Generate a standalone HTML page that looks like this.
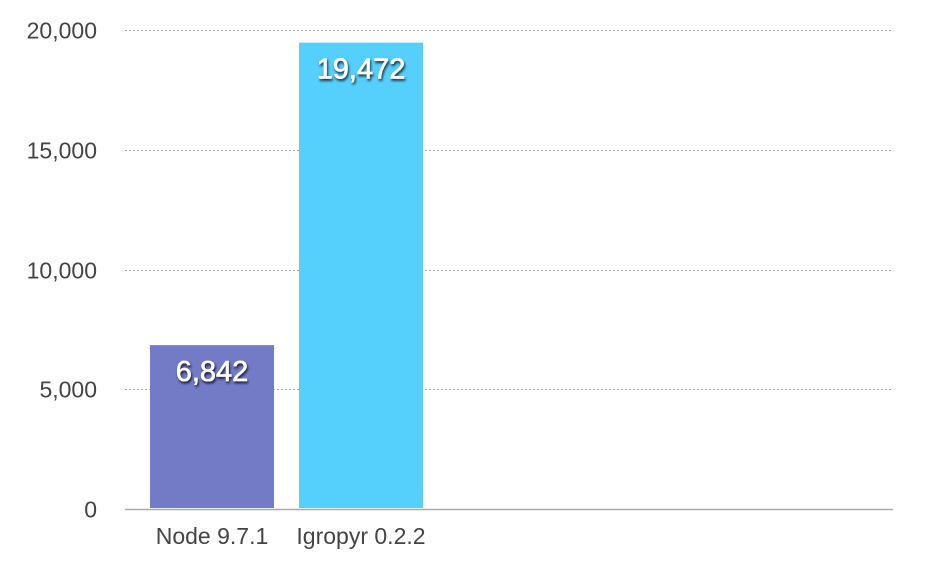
<!DOCTYPE html>
<html><head><meta charset="utf-8"><style>
html,body{margin:0;padding:0;background:#fff;}
svg{display:block;font-family:"Liberation Sans",Helvetica,Arial,sans-serif;}
</style></head><body>
<svg id="chart" width="942" height="572" viewBox="0 0 942 572">
<defs><filter id="sh" x="-20%" y="-40%" width="140%" height="180%"><feDropShadow dx="1" dy="2" stdDeviation="1.2" flood-color="#000" flood-opacity="0.8"/></filter></defs>
<g id="grid"></g><g id="bars"></g><g id="labels"></g>
</svg>
<script>
const categories = ["Node 9.7.1", "Igropyr 0.2.2"];
const values = [6842, 19472];
const valueLabels = ["6,842", "19,472"];
const colors = ["#737bc7", "#55cffc"];
const yTicks = [0, 5000, 10000, 15000, 20000];
const yTickLabels = ["0", "5,000", "10,000", "15,000", "20,000"];

const NS = "http://www.w3.org/2000/svg";
const x0 = 125, x1 = 893, yBase = 509, yTop = 30, yMax = 20000;
const y = v => yBase - (v / yMax) * (yBase - yTop);
const barX = i => 150 + i * 149;
const barW = 124;
function mk(tag, attrs, parent, text) {
  const e = document.createElementNS(NS, tag);
  for (const k in attrs) e.setAttribute(k, attrs[k]);
  if (text !== undefined) e.textContent = text;
  parent.appendChild(e);
  return e;
}
const grid = document.getElementById("grid");
const bars = document.getElementById("bars");
const labels = document.getElementById("labels");
yTicks.forEach((t, i) => {
  const yy = Math.round(y(t)) + 0.5;
  if (t !== 0) {
    const l = mk("line", {x1: x0, x2: x1, y1: yy, y2: yy, stroke: "#a8a8a8", "stroke-width": 1, "stroke-dasharray": "2,2"}, grid);
    
    
  }
  const tx = mk("text", {x: 97, y: yy + 8, "text-anchor": "end", "font-size": 23, fill: "#444", "textLength": yTickLabels[i].length > 1 ? null : null}, labels, yTickLabels[i]);
  tx.removeAttribute("textLength");
  
  
});
categories.forEach((c, i) => {
  const top = y(values[i]);
  const r = mk("rect", {x: barX(i), y: top, width: barW, height: yBase - 1 - top, fill: colors[i]}, bars);
  
  
  const vl = mk("text", {x: barX(i) + barW / 2, y: top + 36, "text-anchor": "middle", "font-size": 29, fill: "#fff", stroke: "#fff", "stroke-width": 0.6, filter: "url(#sh)"}, labels, valueLabels[i]);
  
  
  const cl = mk("text", {x: barX(i) + barW / 2, y: 544, "text-anchor": "middle", "font-size": 23, fill: "#444"}, labels, c);
  
  
});
const ax = mk("line", {x1: x0, x2: x1, y1: yBase + 0.5, y2: yBase + 0.5, stroke: "#aaa", "stroke-width": 1.5}, grid);


</script>
</body></html>
